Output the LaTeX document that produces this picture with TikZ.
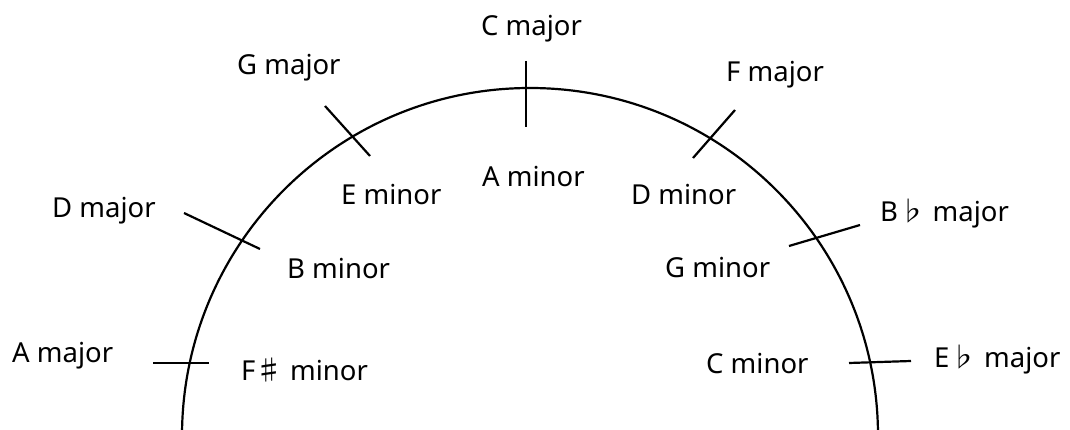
\documentclass[tikz,border=0pt]{standalone}
\usepackage{fontspec}
\setmainfont{Noto Sans}
\newfontfamily\symfont{Noto Sans CJK JP}
\begin{document}
\begin{tikzpicture}[x=1pt,y=-1pt,
  lbl/.style={anchor=base west,inner sep=0pt,font=\fontsize{27.5}{30}\selectfont},
  tick/.style={line width=2.2pt},
  rim/.style={line width=2.2pt}]
\useasboundingbox (0,0) rectangle (1070,430);
\begin{scope}
\clip (0,0) rectangle (1070,430);
\draw[rim] (530,436) circle [radius=348pt];
\end{scope}
% tick ends
\coordinate (c1) at (526,61);  \coordinate (c2) at (526,127);
\coordinate (g1) at (325,106); \coordinate (g2) at (370,156);
\coordinate (d1) at (184,213); \coordinate (d2) at (260,249);
\coordinate (a1) at (153,363); \coordinate (a2) at (209,363);
\coordinate (f1) at (735,110); \coordinate (f2) at (693,158);
\coordinate (b1) at (789,246); \coordinate (b2) at (860,225);
\coordinate (e1) at (849,363); \coordinate (e2) at (911,361);
\draw[tick] (c1) -- (c2);
\draw[tick] (g1) -- (g2);
\draw[tick] (d1) -- (d2);
\draw[tick] (a1) -- (a2);
\draw[tick] (f1) -- (f2);
\draw[tick] (b1) -- (b2);
\draw[tick] (e1) -- (e2);
% labels
\node[lbl] (Cmaj) at (481,36) {C major};
\node[lbl] (Amin) at (482,187) {A minor};
\node[lbl] (Gmaj) at (237,75) {G major};
\node[lbl] (Emin) at (341,205) {E minor};
\node[lbl] (Dmaj) at (52,218) {D major};
\node[lbl] (Bmin) at (287,279) {B minor};
\node[lbl] (Amaj) at (12,362) {A major};
\node[lbl] (Fsmin) at (241,380) {F{\symfont ♯}\ minor};
\node[lbl] (Fmaj) at (726,82) {F major};
\node[lbl] (Dmin) at (631,205) {D minor};
\node[lbl] (Bbmaj) at (880,222) {B{\symfont ♭}\ major};
\node[lbl] (Gmin) at (665,277) {G minor};
\node[lbl] (Ebmaj) at (934,367) {E{\symfont ♭}\ major};
\node[lbl] (Cmin) at (706,373) {C minor};
\end{tikzpicture}
\end{document}
